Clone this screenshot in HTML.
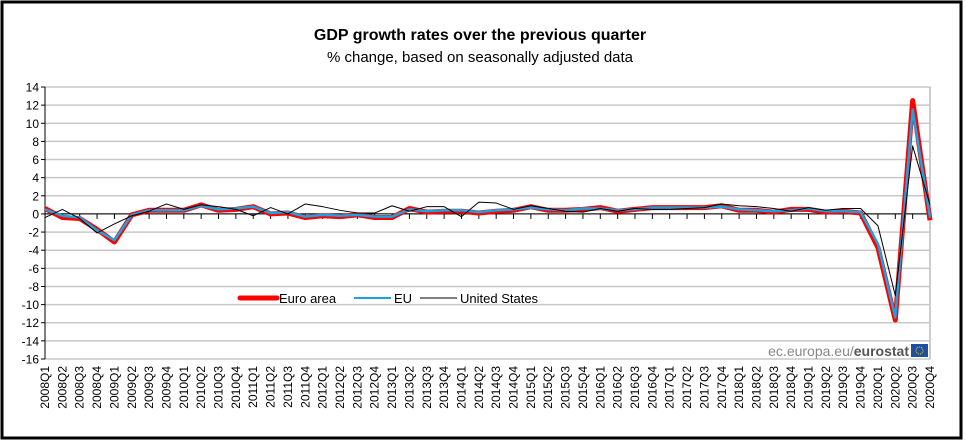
<!DOCTYPE html>
<html><head><meta charset="utf-8"><style>
body{margin:0;background:#fff;}
svg{display:block;font-family:"Liberation Sans",Arial,sans-serif;}
</style></head><body>
<svg id="chart" width="966" height="441">
<rect x="2" y="2" width="959" height="436" fill="#fff" stroke="#000" stroke-width="3"/>
<text x="480" y="40" text-anchor="middle" font-size="16" font-weight="bold">GDP growth rates over the previous quarter</text>
<text x="480" y="62" text-anchor="middle" font-size="15">% change, based on seasonally adjusted data</text>
<g id="grid"></g><g id="axes"></g><g id="series"></g>
<g>
<line x1="240" y1="298" x2="277" y2="298" stroke="#f00" stroke-width="5" stroke-linecap="round"/>
<text x="279" y="303" font-size="13">Euro area</text>
<line x1="354" y1="298" x2="391" y2="298" stroke="#1aa3e0" stroke-width="2"/>
<text x="394" y="303" font-size="13">EU</text>
<line x1="420" y1="298" x2="457" y2="298" stroke="#000" stroke-width="1"/>
<text x="460" y="303" font-size="13">United States</text>
</g>
<text x="909" y="356" text-anchor="end" font-size="14" fill="#888">ec.europa.eu/<tspan font-weight="bold" fill="#555">eurostat</tspan></text>
<rect x="911" y="344" width="17" height="13" fill="#1f4fa0"/>
<circle cx="919.5" cy="350.5" r="3.5" fill="none" stroke="#fc0" stroke-width="1" stroke-dasharray="1 1"/>
</svg>
<script>
const categories=[];for(let y=2008;y<=2020;y++)for(let q=1;q<=4;q++)categories.push(y+"Q"+q);
const yTicks=[14,12,10,8,6,4,2,0,-2,-4,-6,-8,-10,-12,-14,-16];
const euroArea=[0.6,-0.4,-0.5,-1.7,-3.1,-0.1,0.4,0.4,0.4,1.0,0.4,0.5,0.8,0.0,0.1,-0.4,-0.2,-0.3,-0.1,-0.4,-0.4,0.6,0.2,0.3,0.3,0.1,0.3,0.4,0.8,0.4,0.4,0.5,0.7,0.3,0.5,0.7,0.7,0.7,0.7,0.9,0.4,0.4,0.2,0.5,0.5,0.2,0.3,0.1,-3.7,-11.7,12.5,-0.7];
const eu=[0.5,-0.2,-0.4,-1.8,-2.9,-0.1,0.4,0.4,0.4,0.9,0.5,0.6,0.8,0.1,0.2,-0.3,-0.1,-0.2,-0.1,-0.3,-0.3,0.5,0.3,0.4,0.4,0.2,0.4,0.5,0.7,0.5,0.4,0.6,0.6,0.4,0.5,0.7,0.7,0.7,0.7,0.8,0.5,0.4,0.3,0.4,0.6,0.3,0.3,0.2,-3.3,-11.4,11.5,-0.4];
const us=[-0.4,0.5,-0.5,-2.1,-1.1,-0.2,0.3,1.1,0.5,1.0,0.8,0.5,-0.2,0.7,0.0,1.1,0.8,0.4,0.1,0.1,0.9,0.3,0.8,0.8,-0.3,1.3,1.2,0.5,0.9,0.6,0.3,0.2,0.6,0.3,0.6,0.5,0.5,0.6,0.7,1.1,0.9,0.8,0.6,0.3,0.7,0.4,0.6,0.6,-1.3,-9.0,7.5,1.0];
const L=45,R=930,T=87,B=359,ymax=14,ymin=-16;
const X=i=>L+i*(R-L)/(categories.length-1);
const Y=v=>T+(ymax-v)*(B-T)/(ymax-ymin);
const NS="http://www.w3.org/2000/svg";
function mk(t,a,p){const e=document.createElementNS(NS,t);for(const k in a)e.setAttribute(k,a[k]);p.appendChild(e);return e;}
const grid=document.getElementById('grid'),axes=document.getElementById('axes'),ser=document.getElementById('series');
const pa=mk('rect',{x:L,y:T,width:R-L,height:B-T,fill:'#fff',stroke:'#999'},grid);


yTicks.forEach(v=>{
  const g=mk('line',{x1:L,x2:R,y1:Y(v),y2:Y(v),stroke:'#c8c8c8','stroke-width':1.5},grid);
  
  
  mk('line',{x1:L-4,x2:L,y1:Y(v),y2:Y(v),stroke:'#000'},axes);
  const t=mk('text',{x:L-6,y:Y(v)+4.5,'text-anchor':'end','font-size':12},axes);
  t.textContent=v;
  
  
});
const ya=mk('line',{x1:L,x2:L,y1:T,y2:B,stroke:'#000'},axes);


const xa=mk('line',{x1:L,x2:R,y1:Y(0),y2:Y(0),stroke:'#000'},axes);


categories.forEach((c,i)=>{
  mk('line',{x1:X(i),x2:X(i),y1:Y(0),y2:Y(0)+5,stroke:'#000'},axes);
  const t=mk('text',{transform:`translate(${X(i)+4},366) rotate(-90)`,'text-anchor':'end','font-size':12},axes);
  t.textContent=c;
  
  
});
function line(d,color,w,name){
  const p=mk('polyline',{points:d.map((v,i)=>X(i)+','+Y(v)).join(' '),fill:'none',stroke:color,'stroke-width':w,'stroke-linejoin':'round'},ser);
  
  
}
line(euroArea,'#f00',5,'euro-area-line');
line(eu,'#1aa3e0',2.5,'eu-line');
line(us,'#000',1,'us-line');
</script>
</body></html>
